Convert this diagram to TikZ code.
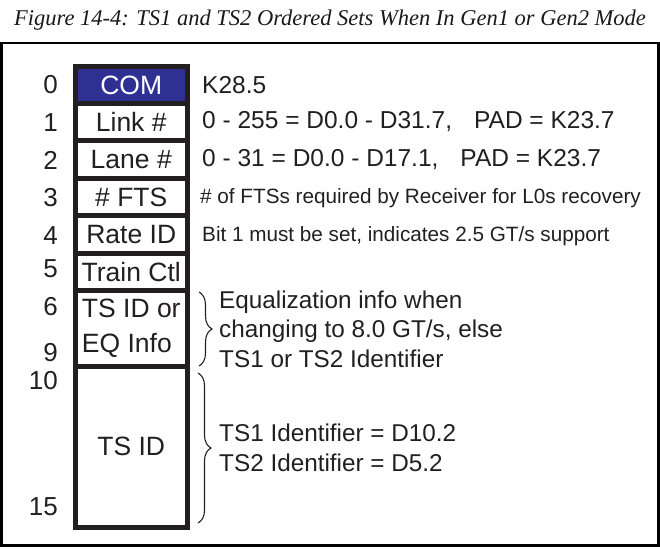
\documentclass[tikz,border=0pt]{standalone}
\usepackage{fontspec}
\setmainfont{Liberation Serif}
\setsansfont{Liberation Sans}
\usetikzlibrary{decorations.pathreplacing}
\definecolor{comFill}{HTML}{2E3192}
\definecolor{inkDark}{HTML}{231F20}
\tikzset{
  tsfig/.style = {x=1bp, y=-1bp, font=\sffamily, text=inkDark},
  field/.style = {
    rectangle, draw=inkDark, line width=5bp, fill=white,
    minimum width=111.5bp, inner sep=0pt, align=center,
    font=\sffamily\fontsize{26.5bp}{34bp}\selectfont,
  },
  comfield/.style = {field, fill=comFill, text=white},
  symnum/.style = {anchor=east, inner sep=0pt, font=\sffamily\fontsize{26bp}{30bp}\selectfont},
  desc/.style = {anchor=west, inner sep=0pt, font=\sffamily\fontsize{24.5bp}{28bp}\selectfont},
  smalldesc/.style = {desc, font=\sffamily\fontsize{20.7bp}{24bp}\selectfont},
  bracetext/.style = {
    anchor=west, align=left, inner sep=0pt,
    font=\sffamily\fontsize{24.3bp}{29.5bp}\selectfont,
  },
  brc/.style = {decorate, decoration={brace, amplitude=13bp}, line width=1.1bp, draw=inkDark},
  caption/.style = {font=\rmfamily\itshape\fontsize{22.5bp}{26bp}\selectfont, text=black!90, inner sep=0pt},
}

\begin{document}
\begin{tikzpicture}[tsfig]
\useasboundingbox (0,0) rectangle (660,549);

\node[caption] (cap) at (330,20) {Figure 14-4: TS1 and TS2 Ordered Sets When In Gen1 or Gen2 Mode};
\draw[line width=2.5bp, black] (1.5,43) rectangle (658.5,545.5);

\node[comfield, minimum height=37bp]   (com)   at (131.25,85)     {COM};
\node[field, minimum height=37.5bp]    (link)  at (131.25,122.25) {Link \#};
\node[field, minimum height=37.5bp]    (lane)  at (131.25,159.75) {Lane \#};
\node[field, minimum height=37.5bp]    (fts)   at (131.25,197.25) {\# FTS};
\node[field, minimum height=37.5bp]    (rate)  at (131.25,234.75) {Rate ID};
\node[field, minimum height=36.5bp]    (train) at (131.25,271.75) {Train Ctl};
\node[field, minimum height=76.5bp, align=left] (eq) at (131.25,328.25) {TS ID or\\EQ Info};
\node[field, minimum height=160.5bp]   (tsid)  at (131.25,446.75) {TS ID};

\node[symnum] (n0)  at (58,85)  {0};
\node[symnum] (n1)  at (58,123) {1};
\node[symnum] (n2)  at (58,160) {2};
\node[symnum] (n3)  at (58,198) {3};
\node[symnum] (n4)  at (58,236) {4};
\node[symnum] (n5)  at (58,269) {5};
\node[symnum] (n6)  at (58,307) {6};
\node[symnum] (n9)  at (58,353) {9};
\node[symnum] (n10) at (58,381) {10};
\node[symnum] (n15) at (58,507) {15};

\node[desc]      (d0) at (202,85)  {K28.5};
\node[desc]      (d1) at (202,122) {0 - 255 = D0.0 - D31.7,\hspace{0.9em}PAD = K23.7};
\node[desc]      (d2) at (202,160) {0 - 31 = D0.0 - D17.1,\hspace{0.9em}PAD = K23.7};
\node[smalldesc] (d3) at (200,198) {\# of FTSs required by Receiver for L0s recovery};
\node[smalldesc] (d4) at (202,236) {Bit 1 must be set, indicates 2.5 GT/s support};

\coordinate (b1top) at (199,292);
\coordinate (b1bot) at (199,366);
\coordinate (b2top) at (198,373);
\coordinate (b2bot) at (198,523);
\draw[brc] (b1top) -- (b1bot);
\draw[brc] (b2top) -- (b2bot);

\node[bracetext] (eqtxt) at (219,329) {Equalization info when\\changing to 8.0 GT/s, else\\TS1 or TS2 Identifier};
\node[bracetext] (idtxt) at (219,448) {TS1 Identifier = D10.2\\TS2 Identifier = D5.2};

\end{tikzpicture}
\end{document}
